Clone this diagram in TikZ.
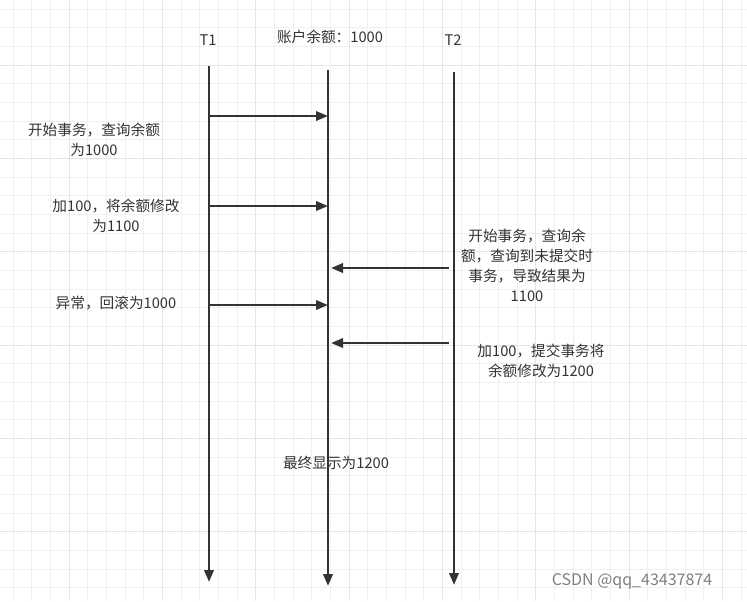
\documentclass[tikz,border=0pt]{standalone}
\usepackage{fontspec}
\setmainfont{Noto Sans CJK SC}
\usetikzlibrary{arrows.meta}
\begin{document}
\begin{tikzpicture}[x=0.75pt,y=-0.75pt,
  life/.style={draw=black!80,line width=1.8pt,-{Triangle[length=9pt,width=7pt]}},
  msg/.style={draw=black!80,line width=1.8pt,-{Triangle[length=9pt,width=7pt]}},
  lbl/.style={font=\fontsize{11}{15}\selectfont,text=black!80,align=center,inner sep=0pt}]
\useasboundingbox (0,0) rectangle (747,601);
\fill[white] (0,0) rectangle (747,601);
\begin{scope}
\clip (0,0) rectangle (747,601);
\foreach \i in {0,...,40} {\draw[black!6,line width=0.5pt] (13+18.67*\i,0) -- (13+18.67*\i,601);}
\foreach \i in {0,...,32} {\draw[black!6,line width=0.5pt] (0,9+18.67*\i) -- (747,9+18.67*\i);}
\foreach \i in {0,...,8} {\draw[black!10,line width=0.6pt] (69+93.35*\i,0) -- (69+93.35*\i,601);}
\foreach \i in {0,...,6} {\draw[black!10,line width=0.6pt] (0,65+93.35*\i) -- (747,65+93.35*\i);}
\end{scope}
\coordinate (a1) at (209,66); \coordinate (a2) at (209,582);
\coordinate (b1) at (328,70); \coordinate (b2) at (328,586);
\coordinate (c1) at (454,72); \coordinate (c2) at (454,585);
\draw[life] (a1) -- (a2);
\draw[life] (b1) -- (b2);
\draw[life] (c1) -- (c2);
\coordinate (m1s) at (209,116); \coordinate (m1e) at (328,116);
\coordinate (m2s) at (209,206); \coordinate (m2e) at (328,206);
\coordinate (m3s) at (209,305); \coordinate (m3e) at (328,305);
\coordinate (m4s) at (449,268); \coordinate (m4e) at (331,268);
\coordinate (m5s) at (449,343); \coordinate (m5e) at (331,343);
\draw[msg] (m1s) -- (m1e);
\draw[msg] (m2s) -- (m2e);
\draw[msg] (m3s) -- (m3e);
\draw[msg] (m4s) -- (m4e);
\draw[msg] (m5s) -- (m5e);
\node[lbl] (t1) at (208,40) {T1};
\node[lbl] (acc) at (330,37) {账户余额：1000};
\node[lbl] (t2) at (453,40) {T2};
\node[lbl] (l1) at (94,140) {开始事务，查询余额\\为1000};
\node[lbl] (l2) at (116,216) {加100，将余额修改\\为1100};
\node[lbl] (l3) at (116,303) {异常，回滚为1000};
\node[lbl] (l4) at (527,265) {开始事务，查询余\\额，查询到未提交时\\事务，导致结果为\\1100};
\node[lbl] (l5) at (541,361) {加100，提交事务将\\余额修改为1200};
\node[lbl] (l6) at (336,463) {最终显示为1200};
\node[lbl,text=black!50,font=\fontsize{12}{14}\selectfont] (wm) at (632,581) {CSDN @qq\_43437874};
\end{tikzpicture}
\end{document}
